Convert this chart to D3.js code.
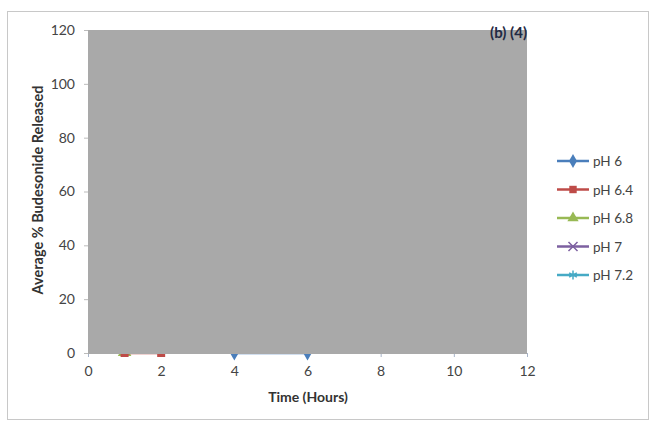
<!DOCTYPE html>
<html>
<head>
<meta charset="utf-8">
<script src="https://cdn.jsdelivr.net/npm/d3@7"></script>
<style>
  body { margin: 0; background: #fff; }
  text { font-family: Lato, "Open Sans", sans-serif; }
</style>
</head>
<body>
<div id="chart"></div>
<script>
// series (only the values near zero are visible, the rest is covered by the grey plot area)
const seriesNames = ["pH 6", "pH 6.4", "pH 6.8", "pH 7", "pH 7.2"];
const seriesColors = ["#4a7ebb", "#be4b48", "#98b954", "#7d60a0", "#46aac5"];
const seriesSymbols = ["diamond", "square", "triangle", "x", "star"];
const timesPH6 = [4, 6];
const valuesPH6 = [0, 0];
const timesPH64 = [1, 2];
const valuesPH64 = [0, 0];
const timesPH68 = [1];
const valuesPH68 = [0.3];
const timesPH7 = [];
const valuesPH7 = [];
const timesPH72 = [];
const valuesPH72 = [];
const xTicks = [0, 2, 4, 6, 8, 10, 12];
const yTicks = [0, 20, 40, 60, 80, 100, 120];

const W = 650, H = 422;
const margin = { top: 30, right: 123, bottom: 69, left: 88 };
const width = W - margin.left - margin.right;
const height = H - margin.top - margin.bottom;

const svg = d3.select("#chart").append("svg")
    .attr("width", W)
    .attr("height", H);

// outer frame
svg.append("rect")
    .attr("x", 7.5).attr("y", 11.5)
    .attr("width", W - 9).attr("height", H - 14)
    .attr("fill", "#fff")
    .attr("stroke", "#c8c8c8");

const g = svg.append("g")
    .attr("transform", "translate(" + margin.left + "," + margin.top + ")");

const x = d3.scaleLinear().domain([0, 12]).range([0, width]);
const y = d3.scaleLinear().domain([0, 120]).range([height, 0]);

// y axis
const yAxis = d3.axisLeft(y).tickValues(yTicks).tickSize(4).tickPadding(9);
const gy = g.append("g").call(yAxis);
gy.select(".domain").attr("stroke", "#bbb");
gy.selectAll(".tick line").attr("stroke", "#bbb");
gy.selectAll(".tick text").attr("fill", "#444").style("font-size", "14px");

// x axis
const xAxis = d3.axisBottom(x).tickValues(xTicks).tickSize(4).tickPadding(9);
const gx = g.append("g").attr("transform", "translate(0," + height + ")").call(xAxis);
gx.select(".domain").attr("stroke", "#bbb");
gx.selectAll(".tick line").attr("stroke", "#a8b4c8");
gx.selectAll(".tick text").attr("fill", "#444").style("font-size", "14px");

// series
const seriesData = [
    { t: timesPH6, v: valuesPH6 },
    { t: timesPH64, v: valuesPH64 },
    { t: timesPH68, v: valuesPH68 },
    { t: timesPH7, v: valuesPH7 },
    { t: timesPH72, v: valuesPH72 }
];

const symbolMap = {
    diamond: d3.symbolDiamond,
    square: d3.symbolSquare,
    triangle: d3.symbolTriangle,
    x: d3.symbolTimes,
    star: d3.symbolAsterisk
};

const line = d3.line().x(d => x(d[0])).y(d => y(d[1]));

// draw green under red so that only its top edge shows
const drawOrder = [0, 2, 1, 3, 4];
drawOrder.forEach(i => {
    const s = seriesData[i];
    const pts = s.t.map((t, k) => [t, s.v[k]]);
    g.append("path")
        .datum(pts)
        .attr("d", line)
        .attr("fill", "none")
        .attr("stroke", seriesColors[i])
        .attr("stroke-width", 2.5);
    g.selectAll(null)
        .data(pts)
        .enter().append("path")
        .attr("transform", d => "translate(" + x(d[0]) + "," + y(d[1]) + ")")
        .attr("d", d3.symbol().type(symbolMap[seriesSymbols[i]]).size(i === 2 ? 80 : 64))
        .attr("fill", seriesColors[i])
        .attr("stroke", seriesColors[i])
        .attr("stroke-width", i >= 3 ? 1.5 : 0);
});

// grey plot area laid over the data
g.append("rect")
    .attr("x", x(0))
    .attr("y", y(120))
    .attr("width", x(12) - x(0))
    .attr("height", y(0) - y(120) + 1)
    .attr("fill", "#a9a9a9");

// panel label
g.append("text")
    .attr("x", x(12))
    .attr("y", y(120) + 8)
    .attr("text-anchor", "end")
    .style("font-size", "15px")
    .style("font-weight", "bold")
    .attr("fill", "#1f2a44")
    .text("(b) (4)");

// axis titles
svg.append("text")
    .attr("x", 308)
    .attr("y", 402)
    .attr("text-anchor", "middle")
    .style("font-size", "14px")
    .style("font-weight", "bold")
    .attr("fill", "#333")
    .text("Time (Hours)");

svg.append("text")
    .attr("transform", "translate(43,190) rotate(-90)")
    .attr("text-anchor", "middle")
    .style("font-size", "14.5px")
    .style("font-weight", "bold")
    .attr("fill", "#333")
    .text("Average % Budesonide Released");

// legend
const legend = svg.append("g").attr("transform", "translate(557,161)");
seriesNames.forEach((name, i) => {
    const item = legend.append("g").attr("transform", "translate(0," + (i * 28.5) + ")");
    item.append("line")
        .attr("x1", 0).attr("x2", 32)
        .attr("stroke", seriesColors[i])
        .attr("stroke-width", 2.5);
    item.append("path")
        .attr("transform", "translate(16,0)")
        .attr("d", d3.symbol().type(symbolMap[seriesSymbols[i]]).size(55))
        .attr("fill", seriesColors[i])
        .attr("stroke", seriesColors[i])
        .attr("stroke-width", i >= 3 ? 1.5 : 0);
    item.append("text")
        .attr("x", 36)
        .attr("y", 5)
        .style("font-size", "13.5px")
        .attr("fill", "#444")
        .text(name);
});
</script>
</body>
</html>
